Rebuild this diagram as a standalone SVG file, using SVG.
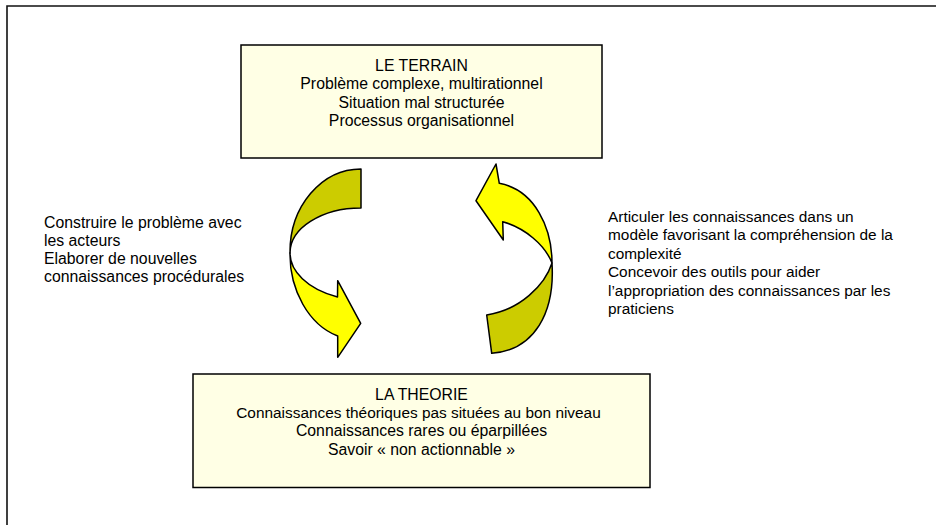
<svg xmlns="http://www.w3.org/2000/svg" width="936" height="525" viewBox="0 0 936 525">
<style>
.frame{fill:none;stroke:#111;stroke-width:1.6}
.box{fill:#FFFFE5;stroke:#000;stroke-width:1.5}
.t{font-family:"Liberation Sans",Arial,sans-serif;font-size:15.8px;fill:#000}
.s{font-size:15.4px}
.c{text-anchor:middle}
.light{fill:#FFFF00;stroke:#000;stroke-width:1.5;stroke-linejoin:round}
.dark{fill:#CCCC00;stroke:#000;stroke-width:1.5;stroke-linejoin:round}
</style>
<rect width="936" height="525" fill="#fff"/>
<path class="frame" d="M7,525 L7,6 L936,6"/>

<g id="terrain">
<rect class="box" x="241" y="45" width="361" height="113"/>
<text class="t c" x="421.5" y="71">LE TERRAIN</text>
<text class="t c" x="421.5" y="89.3">Problème complexe, multirationnel</text>
<text class="t c" x="421.5" y="107.6">Situation mal structurée</text>
<text class="t c" x="421.5" y="125.9">Processus organisationnel</text>
</g>

<g id="theorie">
<rect class="box" x="193" y="374" width="457" height="113.5"/>
<text class="t c" x="421.5" y="400">LA THEORIE</text>
<text class="t s c" x="418.5" y="418.2">Connaissances théoriques pas situées au bon niveau</text>
<text class="t c" x="421.5" y="436.4">Connaissances rares ou éparpillées</text>
<text class="t c" x="421.5" y="454.6">Savoir « non actionnable »</text>
</g>

<g id="connectors">
<g id="arrow-down">
<path class="dark" d="M361,169 L361,208 C321.8,208 290,228.2 290,253 C289.5,206.6 321.5,169 361,169 Z"/>
<path class="light" d="M290,253 C289.5,290 308.8,325 337.7,336 L337.7,357.3 L360.7,323.3 L337.7,280.7 L337.5,297 C307.1,289 290,271 290,253 Z"/>
</g>
<g id="arrow-up">
<path class="dark" d="M552,263 C545,285 520,310 486.7,315 L491.7,353.3 C535,350 555,312 552,263 Z"/>
<path class="light" d="M552,263 C545,245 525,228 502.7,221.7 L503.3,240 L476,200.7 L496,164 L499.3,183.3 C535,190 552,228 552,263 Z"/>
</g>
</g>

<g id="label-left">
<text class="t" x="44" y="227.5">Construire le problème avec</text>
<text class="t" x="44" y="245.8">les acteurs</text>
<text class="t" x="44" y="264.1">Elaborer de nouvelles</text>
<text class="t" x="44" y="282.4">connaissances procédurales</text>
</g>

<g id="label-right">
<text class="t s" x="608" y="222">Articuler les connaissances dans un</text>
<text class="t s" x="608" y="240.4">modèle favorisant la compréhension de la</text>
<text class="t s" x="608" y="258.8">complexité</text>
<text class="t s" x="608" y="277.2">Concevoir des outils pour aider</text>
<text class="t s" x="608" y="295.6">l’appropriation des connaissances par les</text>
<text class="t s" x="608" y="314">praticiens</text>
</g>
</svg>
